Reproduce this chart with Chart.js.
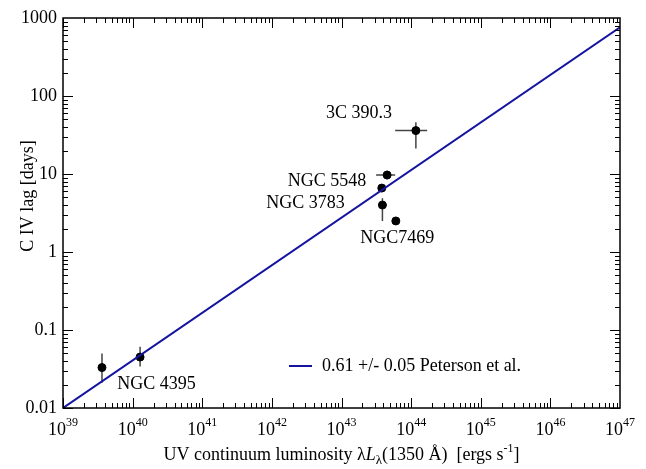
<!DOCTYPE html>
<html>
<head>
<meta charset="utf-8">
<script src="https://cdn.jsdelivr.net/npm/chart.js@4.4.1/dist/chart.umd.min.js"></script>
<style>
  html, body { margin: 0; padding: 0; background: #fff; }
  #wrap { width: 646px; height: 469px; }
</style>
</head>
<body>
<div id="wrap"><canvas id="lagChart"></canvas></div>
<script>
// UV luminosity (erg/s) and C IV lag (days) for each point
const luminosity = [3.63e39, 1.28e40, 3.79e43, 3.87e43, 4.52e43, 6.03e43, 1.17e44];
const lag = [0.033, 0.045, 6.6, 4.0, 9.7, 2.5, 36];
const lagLow = [0.021, 0.034, null, 2.5, 8.55, null, 21.3];
const lagHigh = [0.050, 0.061, null, 4.9, 11.0, null, 46];
const lumLow = [null, null, null, 3.4e43, 3.14e43, null, 5.9e43];
const lumHigh = [null, null, null, 4.47e43, 5.89e43, null, 1.7e44];

// fit line: slope 0.61 in log-log
const fitLum = [1e39, 1e47];
const fitLag = [0.01, 758.6];
const fitLabel = "0.61 +/- 0.05 Peterson et al.";

// object names and where their text sits (data coordinates)
const labelText = ["3C 390.3", "NGC 5548", "NGC 3783", "NGC7469", "NGC 4395"];
const labelLum = [1.79e43, 6.2e42, 3.05e42, 6.3e43, 2.2e40];
const labelLag = [60.5, 8.13, 4.25, 1.51, 0.02];

const xExponents = [39, 40, 41, 42, 43, 44, 45, 46, 47];
const yTickLabels = ["0.01", "0.1", "1", "10", "100", "1000"];

const serif = "'Liberation Serif', 'Times New Roman', serif";
const fontSize = 18;

function isDecade(v) {
  const l = Math.log10(v);
  return Math.abs(l - Math.round(l)) < 1e-6;
}

function drawTicks(ctx, chart) {
  const area = chart.chartArea;
  const xs = chart.scales.x;
  const ys = chart.scales.y;
  ctx.strokeStyle = "#000";
  ctx.lineWidth = 1;
  ctx.beginPath();
  for (let e = 39; e < 47; e++) {
    for (let m = 1; m <= 9; m++) {
      const px = Math.round(xs.getPixelForValue(m * Math.pow(10, e))) + 0.5;
      const len = m === 1 ? 10 : 5;
      ctx.moveTo(px, area.bottom);
      ctx.lineTo(px, area.bottom - len);
      ctx.moveTo(px, area.top);
      ctx.lineTo(px, area.top + len);
    }
  }
  for (let e = -2; e < 3; e++) {
    for (let m = 1; m <= 9; m++) {
      const py = Math.round(ys.getPixelForValue(m * Math.pow(10, e))) + 0.5;
      const len = m === 1 ? 10 : 5;
      ctx.moveTo(area.left, py);
      ctx.lineTo(area.left + len, py);
      ctx.moveTo(area.right, py);
      ctx.lineTo(area.right - len, py);
    }
  }
  ctx.stroke();
  ctx.lineWidth = 1.5;
  ctx.strokeRect(area.left, area.top, area.right - area.left, area.bottom - area.top);
}

function drawXTickLabels(ctx, chart) {
  const xs = chart.scales.x;
  const base = chart.chartArea.bottom + 27;
  xExponents.forEach((e) => {
    const px = xs.getPixelForValue(Math.pow(10, e));
    ctx.font = fontSize + "px " + serif;
    const w1 = ctx.measureText("10").width;
    ctx.font = "12px " + serif;
    const w2 = ctx.measureText(String(e)).width;
    const start = px - (w1 + w2) / 2;
    ctx.textAlign = "left";
    ctx.textBaseline = "alphabetic";
    ctx.font = fontSize + "px " + serif;
    ctx.fillText("10", start, base);
    ctx.font = "12px " + serif;
    ctx.fillText(String(e), start + w1, base - 9);
  });
}

function drawXTitle(ctx, chart) {
  const parts = [
    { t: "UV continuum luminosity \u03bb", f: fontSize + "px " + serif, dy: 0 },
    { t: "L", f: "italic " + fontSize + "px " + serif, dy: 0 },
    { t: "\u03bb", f: "13px " + serif, dy: 4 },
    { t: "(1350 \u00c5)  [ergs s", f: fontSize + "px " + serif, dy: 0 },
    { t: "-1", f: "12px " + serif, dy: -8 },
    { t: "]", f: fontSize + "px " + serif, dy: 0 },
  ];
  let total = 0;
  parts.forEach((p) => {
    ctx.font = p.f;
    p.w = ctx.measureText(p.t).width;
    total += p.w;
  });
  let x = (chart.chartArea.left + chart.chartArea.right) / 2 - total / 2;
  const base = 460;
  ctx.textAlign = "left";
  ctx.textBaseline = "alphabetic";
  parts.forEach((p) => {
    ctx.font = p.f;
    ctx.fillText(p.t, x, base + p.dy);
    x += p.w;
  });
}

function drawYTitle(ctx, chart) {
  ctx.save();
  ctx.translate(28, 196);
  ctx.rotate(-Math.PI / 2);
  ctx.font = fontSize + "px " + serif;
  ctx.textAlign = "center";
  ctx.textBaseline = "middle";
  ctx.fillText("C IV lag [days]", 0, 0);
  ctx.restore();
}

function drawObjectLabels(ctx, chart) {
  const xs = chart.scales.x;
  const ys = chart.scales.y;
  ctx.font = fontSize + "px " + serif;
  ctx.textAlign = "center";
  ctx.textBaseline = "middle";
  labelText.forEach((t, i) => {
    ctx.fillText(t, xs.getPixelForValue(labelLum[i]), ys.getPixelForValue(labelLag[i]));
  });
}

function drawLegend(ctx, chart) {
  const y = 366;
  ctx.strokeStyle = chart.data.datasets[0].borderColor;
  ctx.lineWidth = 2;
  ctx.beginPath();
  ctx.moveTo(289, y);
  ctx.lineTo(312, y);
  ctx.stroke();
  ctx.font = fontSize + "px " + serif;
  ctx.textAlign = "left";
  ctx.textBaseline = "middle";
  ctx.fillStyle = "#000";
  ctx.fillText(chart.data.datasets[0].label, 322, y);
}

const lagPlugin = {
  id: "lagPlugin",
  beforeDatasetsDraw(chart) {
    const ctx = chart.ctx;
    const xs = chart.scales.x;
    const ys = chart.scales.y;
    ctx.save();
    ctx.strokeStyle = "#444";
    ctx.lineWidth = 1.5;
    ctx.beginPath();
    luminosity.forEach((L, i) => {
      const px = xs.getPixelForValue(L);
      const py = ys.getPixelForValue(lag[i]);
      if (lagLow[i] !== null) {
        ctx.moveTo(px, ys.getPixelForValue(lagLow[i]));
        ctx.lineTo(px, ys.getPixelForValue(lagHigh[i]));
      }
      if (lumLow[i] !== null) {
        ctx.moveTo(xs.getPixelForValue(lumLow[i]), py);
        ctx.lineTo(xs.getPixelForValue(lumHigh[i]), py);
      }
    });
    ctx.stroke();
    ctx.restore();
  },
  afterDraw(chart) {
    const ctx = chart.ctx;
    ctx.save();
    ctx.fillStyle = "#000";
    drawTicks(ctx, chart);
    drawXTickLabels(ctx, chart);
    drawXTitle(ctx, chart);
    drawYTitle(ctx, chart);
    drawObjectLabels(ctx, chart);
    drawLegend(ctx, chart);
    ctx.restore();
  },
};

new Chart(document.getElementById("lagChart"), {
  type: "scatter",
  data: {
    datasets: [
      {
        label: fitLabel,
        data: fitLum.map((L, i) => ({ x: L, y: fitLag[i] })),
        showLine: true,
        borderColor: "#1414a0",
        borderWidth: 2,
        pointRadius: 0,
        fill: false,
      },
      {
        label: "AGN",
        data: luminosity.map((L, i) => ({ x: L, y: lag[i] })),
        backgroundColor: "#000",
        borderColor: "#000",
        pointRadius: 4,
        pointHoverRadius: 4,
      },
    ],
  },
  options: {
    responsive: true,
    maintainAspectRatio: false,
    animation: false,
    events: [],
    layout: { padding: { left: 0, top: 18, right: 26, bottom: 0 } },
    plugins: {
      legend: { display: false },
      tooltip: { enabled: false },
    },
    scales: {
      x: {
        type: "logarithmic",
        min: 1e39,
        max: 1e47,
        grid: { display: false, drawTicks: false },
        border: { display: false },
        ticks: { display: false },
        afterFit: (s) => { s.height = 61; },
      },
      y: {
        type: "logarithmic",
        min: 0.01,
        max: 1000,
        grid: { display: false, drawTicks: false },
        border: { display: false },
        ticks: {
          autoSkip: false,
          padding: 6,
          color: "#000",
          font: { family: serif, size: fontSize },
          callback: (v) => isDecade(v) ? yTickLabels[Math.round(Math.log10(v)) + 2] : "",
        },
        afterFit: (s) => { s.width = 63; },
      },
    },
  },
  plugins: [lagPlugin],
});
</script>
</body>
</html>
